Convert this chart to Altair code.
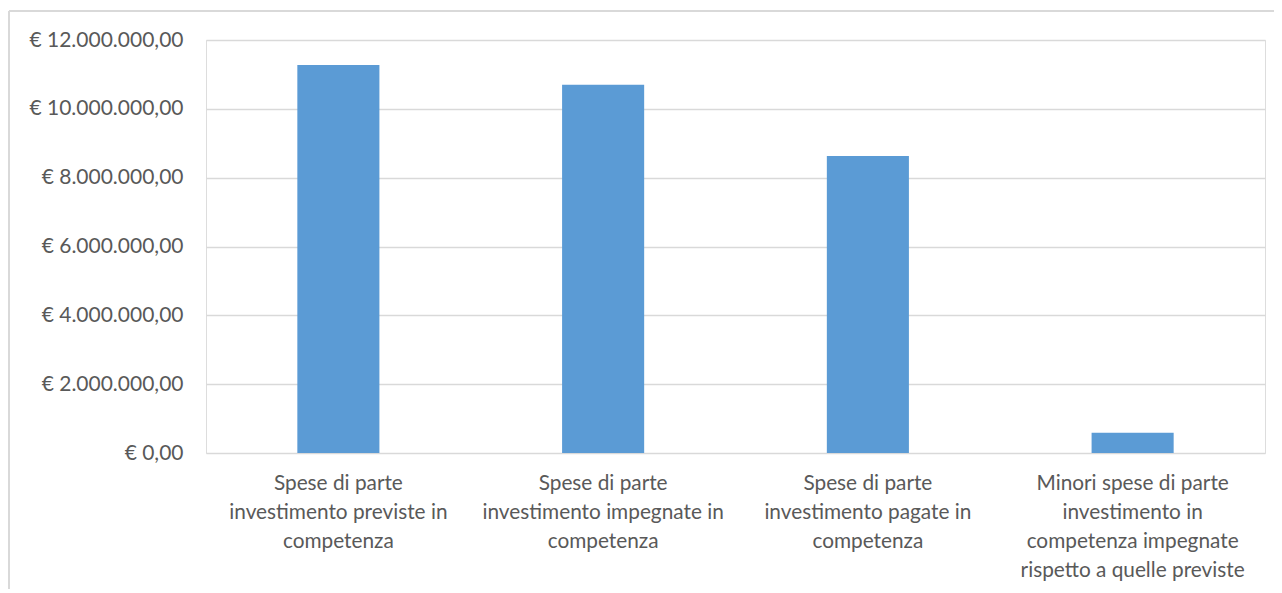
import altair as alt
import pandas as pd

categories = [
    "Spese di parte\ninvestimento previste in\ncompetenza",
    "Spese di parte\ninvestimento impegnate in\ncompetenza",
    "Spese di parte\ninvestimento pagate in\ncompetenza",
    "Minori spese di parte\ninvestimento in\ncompetenza  impegnate\nrispetto a quelle previste",
]
values = [11270000, 10700000, 8630000, 590000]

df = pd.DataFrame({"categoria": categories, "valore": values})

FONT = "Lato"
GRAY = "#595959"
GRID = "#d9d9d9"

bars = alt.Chart(df).mark_bar(color="#5b9bd5").encode(
    x=alt.X(
        "categoria:N",
        sort=categories,
        title=None,
        scale=alt.Scale(paddingInner=0.69, paddingOuter=0.345),
        axis=alt.Axis(
            labelAngle=0,
            labelExpr="split(datum.label, '\\n')",
            labelFont=FONT,
            labelFontSize=20.8,
            labelColor=GRAY,
            labelLineHeight=29,
            labelPadding=20,
            labelBaseline="top",
            ticks=False,
            domain=False,
            grid=False,
            labelLimit=400,
        ),
    ),
    y=alt.Y(
        "valore:Q",
        title=None,
        scale=alt.Scale(domain=[0, 12000000], nice=False),
        axis=alt.Axis(
            values=[0, 2000000, 4000000, 6000000, 8000000, 10000000, 12000000],
            format="$,.2f",
            labelFont=FONT,
            labelFontSize=21,
            labelColor=GRAY,
            labelPadding=23,
            ticks=False,
            domain=False,
            grid=True,
            gridColor=GRID,
            gridWidth=1.5,
        ),
    ),
)

frame_top = alt.Chart(df).mark_rule(color=GRID, strokeWidth=1.5, clip=False).encode(
    x=alt.value(-197), x2=alt.value(1100), y=alt.value(-29)
)
frame_left = alt.Chart(df).mark_rule(color=GRID, strokeWidth=1.5, clip=False).encode(
    x=alt.value(-197), y=alt.value(-29), y2=alt.value(600)
)

chart = (
    alt.layer(frame_top, frame_left, bars)
    .properties(
        width=1059,
        height=413,
        autosize=alt.AutoSizeParams(type="none"),
        padding={"left": 198, "top": 32, "right": 9, "bottom": 136},
    )
    .configure_view(stroke=None)
    .configure(
        locale={
            "number": {
                "decimal": ",",
                "thousands": ".",
                "grouping": [3],
                "currency": ["€ ", ""],
            }
        }
    )
)

chart.save("out.html", embed_options={"renderer": "svg", "actions": False})
